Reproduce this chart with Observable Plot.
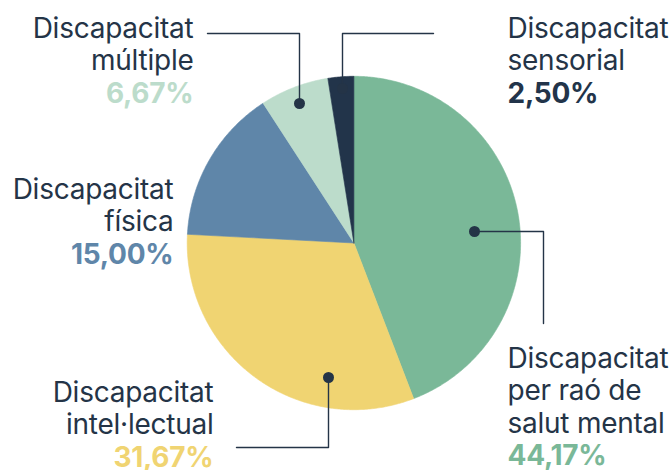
<!DOCTYPE html>
<html><head><meta charset="utf-8">
<script src="https://cdn.jsdelivr.net/npm/d3@7"></script>
<script src="https://cdn.jsdelivr.net/npm/@observablehq/plot@0.6"></script>
<style>
body{margin:0;background:#fff}
#chart svg text{letter-spacing:-0.25px}
</style>
</head><body><div id="chart"></div>
<script>
// ---- data ----
const categories = ["salut mental","intel·lectual","física","múltiple","sensorial"];
const values = [44.17, 31.67, 15.00, 6.67, 2.50];
const valueLabels = ["44,17%","31,67%","15,00%","6,67%","2,50%"];
const labelLines = [
  ["Discapacitat","per raó de","salut mental"],
  ["Discapacitat","intel·lectual"],
  ["Discapacitat","física"],
  ["Discapacitat","múltiple"],
  ["Discapacitat","sensorial"]
];

// ---- styles / layout ----
const sliceColors = ["#7ab898","#f0d472","#5f86a9","#bcdccb","#22344a"];
const valueColors = ["#7ab898","#f0d472","#5f86a9","#bcdccb","#22344a"];
const ink = "#243447";
const W = 672, H = 470, CX = 353.4, CY = 242.5, R = 166.7, LH = 32.5, FS = 28;
const labelPos = [
  {x: 507, y: 367, anchor: "start"},
  {x: 213, y: 401, anchor: "end"},
  {x: 173, y: 198, anchor: "end"},
  {x: 193, y: 37, anchor: "end"},
  {x: 507, y: 37, anchor: "start"}
];
const leaders = [
  [[474,231],[543,231],[543,323]],
  [[328,377],[328,447],[236,447]],
  null,
  [[299,103],[299,33],[207,33]],
  [[342,88],[342,33],[433,33]]
];

// ---- build pie geometry from data ----
const arcs = d3.pie().sort(null).value(d => d)(values);
const slicePts = arcs.map((a, i) => {
  const pts = [{x: CX, y: CY}];
  const steps = Math.max(2, Math.ceil((a.endAngle - a.startAngle) / (Math.PI / 360)));
  for (let k = 0; k <= steps; k++) {
    const t = a.startAngle + (a.endAngle - a.startAngle) * k / steps;
    pts.push({x: CX + R * Math.sin(t), y: CY - R * Math.cos(t)});
  }
  pts.push({x: CX, y: CY});
  return pts;
});

const textRows = [];
labelLines.forEach((lines, i) => {
  const p = labelPos[i];
  lines.forEach((t, j) => textRows.push({x: p.x, y: p.y + j * LH, text: t, anchor: p.anchor, kind: "name", i}));
  textRows.push({x: p.x, y: p.y + lines.length * LH, text: valueLabels[i], anchor: p.anchor, kind: "value", i});
});

const leaderRows = [];
leaders.forEach((l, i) => { if (l) l.forEach(([x, y]) => leaderRows.push({x, y, i})); });
const dotRows = leaders.map((l, i) => l ? {x: l[0][0], y: l[0][1], i} : null).filter(Boolean);

const marks = [];
slicePts.forEach((pts, i) => {
  marks.push(Plot.line(pts, {x: "x", y: "y", fill: sliceColors[i], stroke: sliceColors[i], strokeWidth: 0.6, curve: "linear"}));
});
marks.push(Plot.line(leaderRows, {x: "x", y: "y", z: "i", stroke: ink, strokeWidth: 1.4}));
marks.push(Plot.dot(dotRows, {x: "x", y: "y", r: 5.5, fill: ink, stroke: "none"}));
["start","end"].forEach(anchor => {
  marks.push(Plot.text(textRows.filter(d => d.kind === "name" && d.anchor === anchor), {
    x: "x", y: "y", text: "text", textAnchor: anchor, lineAnchor: "bottom",
    fill: ink, fontSize: FS, fontWeight: 400
  }));
  marks.push(Plot.text(textRows.filter(d => d.kind === "value" && d.anchor === anchor), {
    x: "x", y: "y", text: "text", textAnchor: anchor, lineAnchor: "bottom",
    fill: d => valueColors[d.i], fontSize: FS, fontWeight: 700
  }));
});

const chart = Plot.plot({
  width: W, height: H,
  margin: 0,
  x: {domain: [0, W], range: [0, W], axis: null},
  y: {domain: [0, H], range: [0, H], axis: null},
  color: {type: "identity"},
  style: {fontFamily: "Inter, 'Liberation Sans', sans-serif", background: "#fff", overflow: "visible"},
  marks
});
document.getElementById("chart").appendChild(chart);
</script>
</body></html>
